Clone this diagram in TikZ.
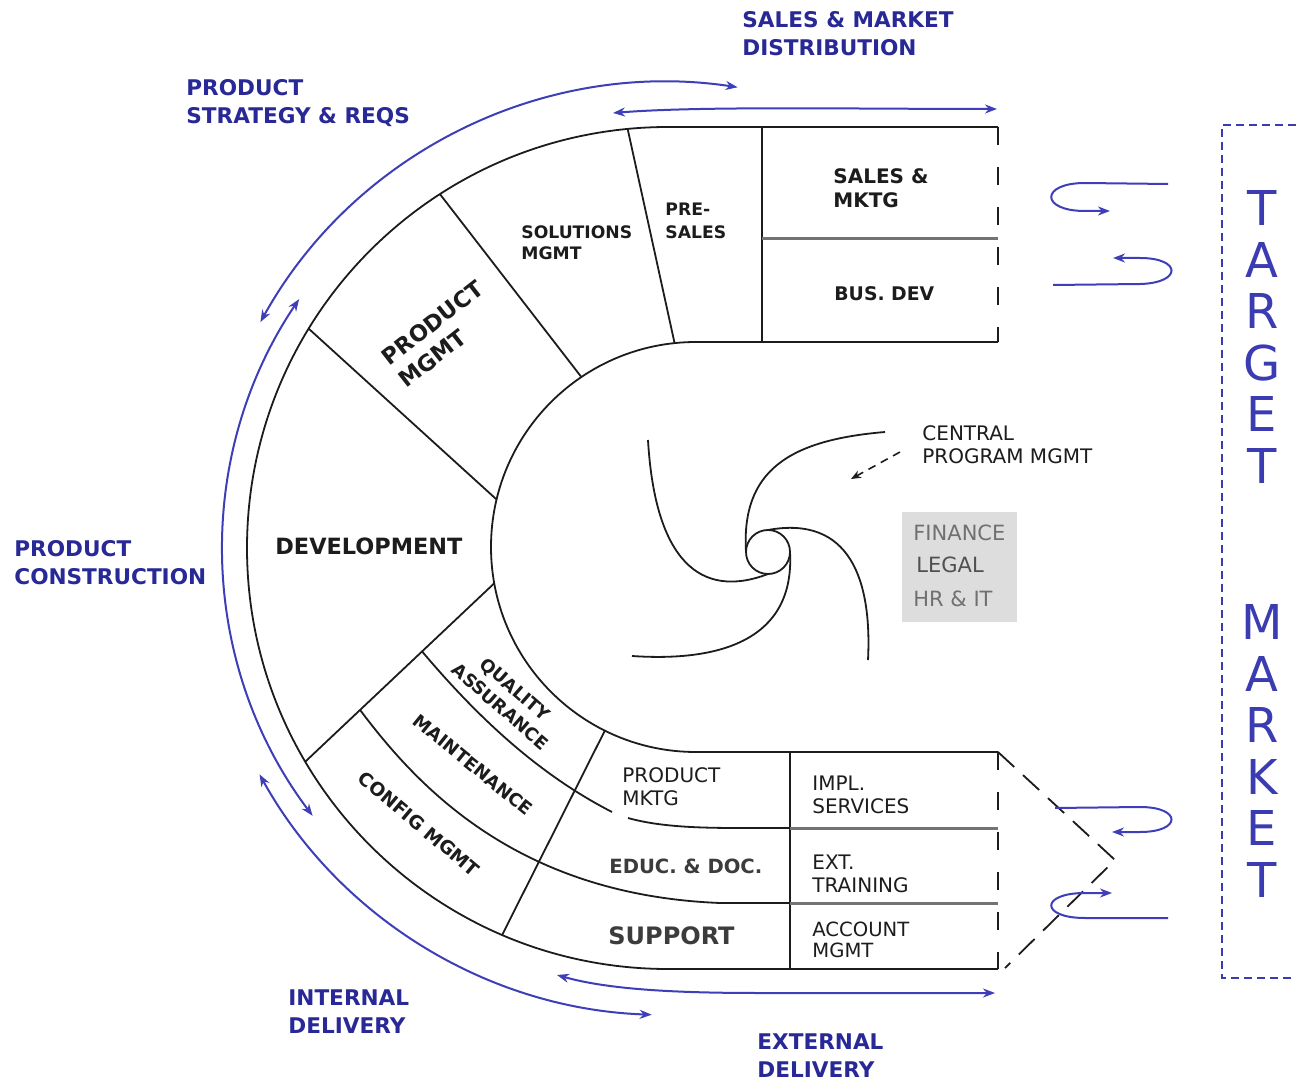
\documentclass[tikz,border=0pt]{standalone}
\usepackage{fontspec}
\setmainfont{DejaVu Sans}
\usetikzlibrary{arrows.meta,calc}

\definecolor{ink}{RGB}{28,28,28}
\definecolor{rulegrey}{RGB}{115,115,115}
\definecolor{flowblue}{RGB}{62,62,184}
\definecolor{labelblue}{RGB}{40,40,150}
\definecolor{marketblue}{RGB}{60,60,178}
\definecolor{panelgrey}{RGB}{221,221,221}
\definecolor{softgrey}{RGB}{112,112,112}
\definecolor{darkgrey}{RGB}{60,60,60}

\begin{document}
\begin{tikzpicture}[x=0.5pt,y=-0.5pt,
  outline/.style={draw=ink, line width=0.9pt},
  rowrule/.style={draw=rulegrey, line width=1.5pt},
  openedge/.style={draw=ink, line width=0.9pt, dash pattern=on 9pt off 11pt},
  wedge/.style={draw=ink, line width=0.9pt, dash pattern=on 11pt off 6pt},
  flow/.style={draw=flowblue, line width=1pt,
    {Stealth[length=6pt,width=4.5pt]}-{Stealth[length=6pt,width=4.5pt]}},
  loopflow/.style={draw=flowblue, line width=1pt, -{Stealth[length=6pt,width=4.5pt]}},
  bluelabel/.style={text=labelblue, font=\bfseries\fontsize{10.8}{13}\selectfont,
    anchor=base west, inner sep=0pt},
  unitbold/.style={text=ink, font=\bfseries\fontsize{8.6}{10}\selectfont,
    anchor=base west, inner sep=0pt},
  unitplain/.style={text=ink, font=\fontsize{10}{12}\selectfont,
    anchor=base west, inner sep=0pt},
  bandlabel/.style={text=ink, inner sep=0pt, anchor=center},
  support/.style={text=softgrey, font=\fontsize{10.5}{12}\selectfont,
    anchor=base west, inner sep=0pt},
  marketletters/.style={text=marketblue, font=\fontsize{24}{25.75}\selectfont,
    align=center, inner sep=0pt, anchor=center}
]
\fill[white] (0,0) rectangle (1296,1080);
\useasboundingbox (0,0) rectangle (1296,1080);

% centres of the outer and inner curves of the U band
\coordinate (O) at (668,548);
\coordinate (I) at (696,547);

% ---------- U-shaped band ----------
\draw[outline] (998,127) -- (668,127) arc[start angle=270,end angle=90,radius=421] -- (998,969);
\draw[outline] (998,342) -- (696,342) arc[start angle=270,end angle=90,radius=205] -- (998,752);

% open right-hand ends
\draw[openedge] (998,127) -- (998,342);
\draw[openedge] (998,752) -- (998,969);
\coordinate (wedgeTop) at (998,752);
\coordinate (wedgeTip) at (1115,860);
\coordinate (wedgeBot) at (1005,968);
\draw[wedge] (wedgeTop) -- (wedgeTip) -- (wedgeBot);

% radial dividers
\coordinate (d1o) at ($(O)+(264.5:421)$);
\coordinate (d1i) at ($(I)+(264:205)$);
\coordinate (d2o) at ($(O)+(237.2:421)$);
\coordinate (d2i) at ($(I)+(236:205)$);
\coordinate (d3o) at ($(O)+(211.4:421)$);
\coordinate (d3i) at ($(I)+(193.4:205)$);
\coordinate (d4o) at ($(O)+(149.5:421)$);
\coordinate (d4i) at ($(I)+(169.8:205)$);
\coordinate (d5o) at ($(O)+(113.2:421)$);
\coordinate (d5i) at ($(I)+(116.4:205)$);
\draw[outline] (d1o) -- (d1i);
\draw[outline] (d2o) -- (d2i);
\draw[outline] (d3o) -- (d3i);
\draw[outline] (d4o) -- (d4i);
\draw[outline] (d5o) -- (d5i);

% separators of the lower band
\coordinate (cfgStart) at ($(d4o)!0.29!(d4i)$);
\coordinate (qaStart) at ($(d4o)!0.618!(d4i)$);
\coordinate (qaEnd) at (612,812);
\coordinate (mktgStart) at (628,818);
\coordinate (rowA) at (790,828);
\coordinate (rowB) at (790,903);
\draw[outline] (qaStart) .. controls (480,720) and (540,775) .. (qaEnd);
\draw[outline] (mktgStart) .. controls (660,827) and (700,828) .. (740,828) -- (rowA);
\draw[outline] (cfgStart) .. controls (420,790) and (520,895) .. (720,903) -- (rowB);

% right-hand blocks
\draw[outline] (762,127) -- (762,342);
\draw[rowrule] (762,239) -- (998,239);
\draw[outline] (790,752) -- (790,969);
\draw[rowrule] (rowA) -- (998,828);
\draw[rowrule] (rowB) -- (998,903);

% ---------- unit labels ----------
\node[unitbold] (solA) at (521,239) {SOLUTIONS};
\node[unitbold] (solB) at (521,260) {MGMT};
\node[unitbold] (preA) at (665,216) {PRE-};
\node[unitbold] (preB) at (665,239) {SALES};
\node[unitbold, font=\bfseries\fontsize{10}{12}\selectfont] (smA) at (833,184) {SALES \&};
\node[unitbold, font=\bfseries\fontsize{10}{12}\selectfont] (smB) at (833,208) {MKTG};
\node[unitbold, font=\bfseries\fontsize{9.4}{12}\selectfont] (busdev) at (834,301) {BUS. DEV};

\node[bandlabel, rotate=38, align=left, font=\bfseries\fontsize{11.2}{14}\selectfont]
  (prodmgmt) at (441,334) {PRODUCT\\MGMT};
\node[unitbold, font=\bfseries\fontsize{11.2}{13}\selectfont] (dev) at (275,554) {DEVELOPMENT};
\node[bandlabel, rotate=-41, align=center, font=\bfseries\fontsize{8.9}{11.5}\selectfont]
  (qa) at (508,698) {QUALITY\\ASSURANCE};
\node[bandlabel, rotate=-39, font=\bfseries\fontsize{9}{11}\selectfont]
  (maint) at (473,765) {MAINTENANCE};
\node[bandlabel, rotate=-40, font=\bfseries\fontsize{9.3}{11}\selectfont]
  (config) at (419,824) {CONFIG MGMT};

\node[unitplain] (pmA) at (622,782) {PRODUCT};
\node[unitplain] (pmB) at (622,805) {MKTG};
\node[unitbold, text=darkgrey, font=\bfseries\fontsize{9.8}{12}\selectfont] (educ) at (609,873) {EDUC. \& DOC.};
\node[unitbold, text=darkgrey, font=\bfseries\fontsize{12}{14}\selectfont] (supp) at (608,944) {SUPPORT};
\node[unitplain] (implA) at (812,790) {IMPL.};
\node[unitplain] (implB) at (812,813) {SERVICES};
\node[unitplain] (extA) at (812,869) {EXT.};
\node[unitplain] (extB) at (812,892) {TRAINING};
\node[unitplain, font=\fontsize{9.8}{12}\selectfont] (accA) at (812,936) {ACCOUNT};
\node[unitplain, font=\fontsize{9.8}{12}\selectfont] (accB) at (812,957) {MGMT};

% ---------- central programme management ----------
\coordinate (hub) at (768,552);
\draw[outline] (hub) circle[radius=22];
\draw[outline] (746,552) .. controls (741,470) and (790,440) .. (885,432);
\draw[outline] (648,440) .. controls (655,560) and (700,600) .. (768,574);
\draw[outline] (790,552) .. controls (795,640) and (720,662) .. (632,656);
\draw[outline] (768,530) .. controls (850,515) and (872,580) .. (868,660);

\node[unitplain] (cpmA) at (922,441) {CENTRAL};
\node[unitplain] (cpmB) at (922,464) {PROGRAM MGMT};
\coordinate (cpmFrom) at (900,452);
\coordinate (cpmTo) at (851,479);
\draw[ink, line width=0.8pt, dash pattern=on 4pt off 3pt, -{Stealth[length=5pt,width=4pt]}]
  (cpmFrom) -- (cpmTo);

\fill[panelgrey] (902,512) rectangle (1017,622);
\node[support] (fin) at (913,540) {FINANCE};
\node[support, text=darkgrey!90] (legal) at (916,573) {LEGAL};
\node[support] (hrit) at (913,606) {HR \& IT};

% ---------- flow labels ----------
\node[bluelabel] (smdA) at (742,28) {SALES \& MARKET};
\node[bluelabel] (smdB) at (742,56) {DISTRIBUTION};
\node[bluelabel] (psrA) at (186,96) {PRODUCT};
\node[bluelabel] (psrB) at (186,124) {STRATEGY \& REQS};
\node[bluelabel] (pcA) at (14,556) {PRODUCT};
\node[bluelabel] (pcB) at (14,584) {CONSTRUCTION};
\node[bluelabel] (idA) at (288,1005) {INTERNAL};
\node[bluelabel] (idB) at (288,1033) {DELIVERY};
\node[bluelabel] (edA) at (757,1049) {EXTERNAL};
\node[bluelabel] (edB) at (757,1077) {DELIVERY};

% ---------- flow arrows ----------
\coordinate (strFrom) at ($(O)+(209:466)$);
\draw[flow] (strFrom) arc[start angle=209,end angle=278.6,radius=466];
\coordinate (conFrom) at ($(O)+(214:445)$);
\draw[flow] (conFrom) arc[start angle=214,end angle=143,radius=445];
\coordinate (intFrom) at ($(O)+(151:467)$);
\draw[flow] (intFrom) arc[start angle=151,end angle=92,radius=467];
\coordinate (salFrom) at (613,113);
\coordinate (salTo) at (997,109);
\draw[flow] (salFrom) .. controls (700,106) and (850,109) .. (salTo);
\coordinate (extFrom) at (557,975);
\coordinate (extTo) at (995,993);
\draw[flow] (extFrom) .. controls (610,990) and (680,993) .. (760,993) -- (extTo);

% exchange loops with the market
\draw[loopflow] (1168,184) -- (1085,183) .. controls (1040,183) and (1040,211) .. (1085,211) -- (1110,211);
\draw[loopflow] (1053,285) -- (1140,284) .. controls (1182,283) and (1182,258) .. (1140,258) -- (1113,258);
\draw[loopflow] (1055,808) -- (1140,807) .. controls (1182,807) and (1182,832) .. (1140,832) -- (1112,832);
\draw[loopflow] (1168,918) -- (1085,918) .. controls (1040,918) and (1040,893) .. (1085,893) -- (1112,893);

% ---------- target market ----------
\draw[draw=marketblue, line width=1pt, dash pattern=on 4pt off 2.5pt]
  (1296,125) -- (1222,125) -- (1222,978) -- (1296,978);
\node[marketletters] (target) at (1262,337) {T\\A\\R\\G\\E\\T};
\node[marketletters] (market) at (1262,751) {M\\A\\R\\K\\E\\T};
\end{tikzpicture}
\end{document}
